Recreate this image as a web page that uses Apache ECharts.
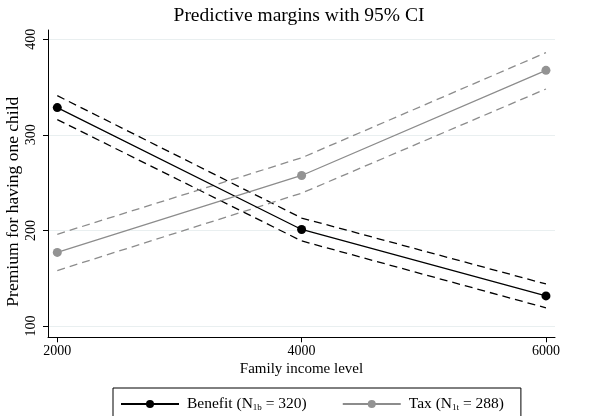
<!DOCTYPE html>
<html>
<head>
<meta charset="utf-8">
<script src="https://cdn.jsdelivr.net/npm/echarts@6/dist/echarts.min.js"></script>
<style>
html,body{margin:0;padding:0;background:#fff;}
#chart{width:598px;height:416px;}
</style>
</head>
<body>
<div id="chart"></div>
<script>
const incomeLevels = [2000, 4000, 6000];
const benefitMargin = [328.5, 201, 131.5];
const benefitUpper = [341, 213, 144];
const benefitLower = [316, 189, 119];
const taxMargin = [177, 257.5, 367.5];
const taxUpper = [196, 276, 386];
const taxLower = [158, 239, 348];
const yTicks = [100, 200, 300, 400];
const xTicks = [2000, 4000, 6000];

const FONT = 'Liberation Serif';
const pair = arr => incomeLevels.map((x, i) => [x, arr[i]]);
const BLACK = '#000000';
const GREY = '#8c8c8c';

const chart = echarts.init(document.getElementById('chart'), null, {renderer: 'canvas'});

function ciSeries(name, arr, color) {
  return {
    name: name, type: 'line', data: pair(arr), symbol: 'none', silent: true,
    lineStyle: {color: color, width: 1.3, type: [8, 5]}, z: 2
  };
}

chart.setOption({
  animation: false,
  backgroundColor: '#ffffff',
  title: {
    text: 'Predictive margins with 95% CI',
    left: 'center', top: 1,
    textStyle: {fontFamily: FONT, fontSize: 19.5, fontWeight: 'normal', color: '#000'}
  },
  grid: {left: 48, right: 43, top: 30, bottom: 78.7, containLabel: false, outerBoundsMode: 'none'},
  xAxis: {
    type: 'value', min: 1924, max: 6074,
    name: 'Family income level', nameLocation: 'middle', nameGap: 24, nameMoveOverlap: false,
    nameTextStyle: {fontFamily: FONT, fontSize: 15, color: '#000'},
    axisLine: {show: true, lineStyle: {color: '#000', width: 1}},
    axisTick: {show: true, length: 5, customValues: xTicks, lineStyle: {color: '#000'}},
    axisLabel: {customValues: xTicks, fontFamily: FONT, fontSize: 14, color: '#000', margin: 7,
      formatter: v => String(v)},
    splitLine: {show: false}
  },
  yAxis: {
    type: 'value', min: 88.2, max: 409.7,
    name: 'Premium for having one child', nameLocation: 'middle', nameGap: 26, nameMoveOverlap: false,
    nameTextStyle: {fontFamily: FONT, fontSize: 17.5, color: '#000', padding: [0, 36, 0, 0]},
    axisLine: {show: true, lineStyle: {color: '#000', width: 1}},
    axisTick: {show: true, length: 5, customValues: yTicks, lineStyle: {color: '#000'}},
    axisLabel: {customValues: yTicks, rotate: 90, fontFamily: FONT, fontSize: 14, color: '#000', margin: 10},
    splitLine: {show: true, lineStyle: {color: '#e9eff0', width: 1}}
  },
  legend: {
    data: ['Benefit', 'Tax'],
    left: 113, top: 388,
    orient: 'horizontal',
    itemWidth: 58, itemHeight: 10, itemGap: 35,
    borderColor: '#000', borderWidth: 1, borderRadius: 0,
    padding: [8, 17, 10, 7],
    formatter: function (name) {
      return name === 'Benefit'
        ? '{a|Benefit (N}{s|1b}{a| = 320)}'
        : '{a|Tax (N}{s|1t}{a| = 288)}';
    },
    textStyle: {
      fontFamily: FONT, fontSize: 15.5, color: '#000', padding: [0, 0, 0, 3],
      rich: {
        a: {fontFamily: FONT, fontSize: 15.5, color: '#000', lineHeight: 17},
        s: {fontFamily: FONT, fontSize: 9, color: '#000', lineHeight: 9, verticalAlign: 'bottom'}
      }
    }
  },
  series: [
    ciSeries('Benefit upper', benefitUpper, BLACK),
    ciSeries('Benefit lower', benefitLower, BLACK),
    ciSeries('Tax upper', taxUpper, GREY),
    ciSeries('Tax lower', taxLower, GREY),
    {
      name: 'Benefit', type: 'line', data: pair(benefitMargin),
      symbol: 'circle', symbolSize: 9,
      lineStyle: {color: BLACK, width: 1.3}, itemStyle: {color: BLACK}, z: 3
    },
    {
      name: 'Tax', type: 'line', data: pair(taxMargin),
      symbol: 'circle', symbolSize: 9,
      lineStyle: {color: GREY, width: 1.3}, itemStyle: {color: '#939393'}, z: 3
    }
  ]
});
</script>
</body>
</html>
